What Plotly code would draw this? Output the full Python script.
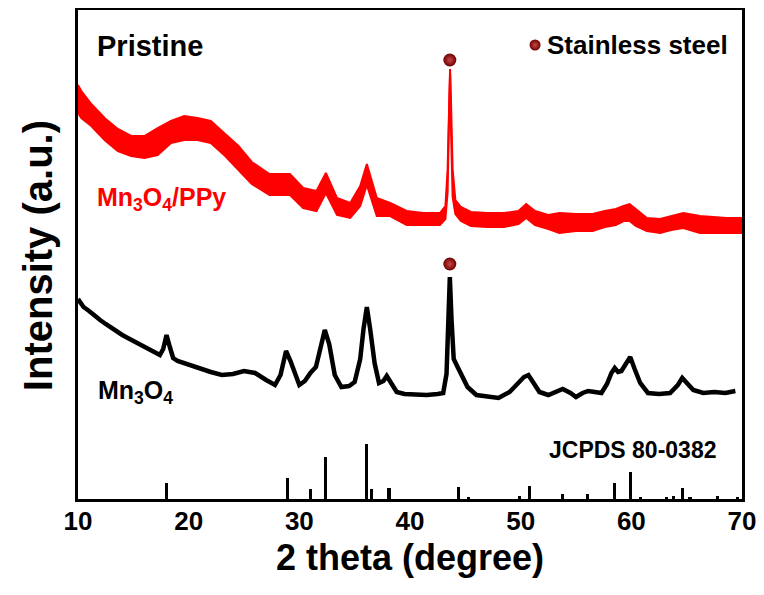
import plotly.graph_objects as go

# ---- Data (intensity in arbitrary units) ----
# Mn3O4 (black) pattern
mn_x = [10.0, 10.5, 11.0, 11.5, 12.0, 12.5, 13.0, 13.5, 14.0, 14.5, 15.0, 15.5, 16.0, 16.5, 17.0,
        17.4, 17.7, 18.0, 18.3, 18.6, 19.0, 19.5, 20.0, 21.0, 22.0, 23.0, 24.0, 25.0, 26.0, 27.0,
        27.8, 28.3, 28.8, 29.2, 29.6, 30.0, 30.5, 31.0, 31.5, 32.0, 32.3, 32.7, 33.2, 33.8, 34.5,
        35.0, 35.5, 35.8, 36.1, 36.4, 36.8, 37.2, 37.6, 37.9, 38.3, 38.8, 39.5, 40.5, 41.5, 42.5,
        43.0, 43.3, 43.45, 43.6, 43.75, 43.95, 44.3, 44.7, 45.2, 46.0, 47.0, 48.0, 49.0, 49.7, 50.3,
        50.7, 51.1, 51.7, 52.5, 53.2, 53.8, 54.5, 55.0, 55.6, 56.1, 56.7, 57.3, 57.8, 58.2, 58.5,
        58.8, 59.1, 59.5, 59.9, 60.3, 60.8, 61.5, 62.5, 63.5, 64.2, 64.6, 65.0, 65.6, 66.5, 67.5,
        68.5, 69.4]
mn_y = [200, 192, 188, 183, 179, 175, 171, 167, 164, 161, 158, 155, 152, 149, 146,
        144, 150, 164, 152, 141, 138, 136, 134, 130, 127, 124, 125, 128, 126, 119,
        114, 124, 148, 138, 125, 114, 118, 126, 132, 155, 169, 155, 124, 112, 113,
        117, 140, 170, 192, 170, 136, 116, 118, 123, 116, 107, 105, 104, 104, 105,
        106, 125, 175, 222, 180, 140, 132, 124, 112, 104, 102, 101, 107, 115, 122,
        124, 117, 107, 104, 107, 110, 106, 102, 106, 108, 107, 106, 115, 126, 131,
        127, 128, 136, 142, 130, 116, 106, 105, 106, 114, 121, 116, 109, 106, 107,
        106, 108]

# Mn3O4/PPy (red) pattern: upper and lower edges of the noisy trace
ppy_x = [10.0, 10.3, 11.2, 12.4, 13.6, 14.8, 16.0, 17.2, 18.4, 19.6, 20.8, 22.0, 23.3, 24.5, 25.7,
         27.3, 29.15, 30.35, 31.55, 32.4, 33.4, 34.6, 35.5, 36.1, 37.0, 38.2, 39.7, 41.2, 42.7, 43.2,
         43.4, 43.55, 43.62, 43.7, 43.85, 44.1, 44.6, 45.5, 47.0, 48.5, 49.8, 50.5, 51.3, 52.5, 53.5,
         55.0, 56.5, 57.6, 58.6, 59.3, 59.85, 60.4, 61.4, 62.6, 63.6, 64.7, 66.2, 67.5, 68.6, 70.0]
ppy_hi = [414, 408, 395, 381, 370, 363, 363, 371, 378, 383, 381, 378, 365, 353, 337,
          325, 325, 311, 308, 326, 301, 296, 313, 335, 301, 296, 288, 286, 286, 293,
          330, 420, 430, 400, 330, 299, 292, 287, 286, 286, 288, 295, 288, 284, 286,
          285, 285, 288, 290, 293, 295, 290, 281, 280, 283, 286, 283, 282, 281, 281]
ppy_lo = [386, 381, 373, 359, 348, 343, 341, 344, 356, 359, 359, 356, 343, 329, 315,
          304, 304, 291, 288, 306, 284, 281, 293, 314, 283, 283, 274, 274, 274, 280,
          307, 397, 425, 372, 302, 285, 278, 273, 272, 272, 275, 281, 274, 270, 266,
          268, 268, 272, 274, 278, 278, 273, 268, 266, 269, 271, 266, 266, 266, 266]

# JCPDS 80-0382 reference lines
jc_pos = [18.0, 28.9, 31.0, 32.4, 36.1, 36.5, 38.1, 44.4, 45.3, 49.9, 50.8, 53.8, 56.0, 58.5,
          59.9, 60.8, 63.2, 63.8, 64.6, 65.3, 67.8, 69.6]
jc_int = [16, 21, 10, 42, 55, 10, 11, 12, 2, 3, 13, 5, 5, 16, 27, 2, 2, 3, 11, 2, 3, 2]

# Stainless-steel peak markers
ss_x = [43.6, 43.6]
ss_y = [439, 235]
legend_x = [51.3]
legend_y = [454]

x_ticks = [10, 20, 30, 40, 50, 60, 70]

FONT = "Liberation Sans, Arial, Helvetica, sans-serif"
RED = "#ff0000"

fig = go.Figure()

# JCPDS bars
fig.add_trace(go.Bar(x=jc_pos, y=jc_int, width=0.28, marker=dict(color="black", line=dict(width=0)),
                     showlegend=False, hoverinfo="skip"))

# red noisy band
fig.add_trace(go.Scatter(x=ppy_x, y=ppy_lo, mode="lines", line=dict(color=RED, width=2),
                         showlegend=False, hoverinfo="skip"))
fig.add_trace(go.Scatter(x=ppy_x, y=ppy_hi, mode="lines", line=dict(color=RED, width=2),
                         fill="tonexty", fillcolor=RED, showlegend=False, hoverinfo="skip"))

# black pattern
fig.add_trace(go.Scatter(x=mn_x, y=mn_y, mode="lines", line=dict(color="black", width=4.5),
                         showlegend=False, hoverinfo="skip"))

# sphere markers
sphere = dict(size=13, color="#6e0000", line=dict(width=0),
              gradient=dict(type="radial", color="#c84848"))
fig.add_trace(go.Scatter(x=ss_x, y=ss_y, mode="markers", marker=sphere, showlegend=False, hoverinfo="skip"))
fig.add_trace(go.Scatter(x=legend_x, y=legend_y, mode="markers", marker=dict(sphere, size=11),
                         showlegend=False, hoverinfo="skip"))

ann = [
    dict(x=11.5, y=453, text="<b>Pristine</b>", xanchor="left", yanchor="middle",
         font=dict(size=29, color="black", family=FONT)),
    dict(x=52.2, y=454, text="<b>Stainless steel</b>", xanchor="left", yanchor="middle",
         font=dict(size=26, color="black", family=FONT)),
    dict(x=11.5, y=300, text="<b>Mn<sub>3</sub>O<sub>4</sub>/PPy</b>", xanchor="left", yanchor="middle",
         font=dict(size=25, color=RED, family=FONT)),
    dict(x=11.6, y=107, text="<b>Mn<sub>3</sub>O<sub>4</sub></b>", xanchor="left", yanchor="middle",
         font=dict(size=25, color="black", family=FONT)),
    dict(x=52.4, y=49, text="<b>JCPDS 80-0382</b>", xanchor="left", yanchor="middle",
         font=dict(size=23, color="black", family=FONT)),
    dict(x=0.5, y=-0.12, xref="paper", yref="paper", text="<b>2 theta (degree)</b>",
         xanchor="center", yanchor="middle", showarrow=False,
         font=dict(size=36, color="black", family=FONT)),
    dict(x=-0.06, y=0.497, xref="paper", yref="paper", text="<b>Intensity (a.u.)</b>",
         textangle=-90, xanchor="center", yanchor="middle", showarrow=False,
         font=dict(size=40, color="black", family=FONT)),
]
for a in ann:
    a.setdefault("showarrow", False)

# the page adds an 8 px body margin, so the figure is reduced by that amount
fig.update_layout(
    width=756, height=587,
    margin=dict(l=70, r=22, t=2, b=96, autoexpand=False),
    plot_bgcolor="white", paper_bgcolor="white",
    bargap=0, annotations=ann,
    xaxis=dict(range=[10, 70], tickvals=x_ticks, ticks="", showgrid=False, zeroline=False,
               showline=True, mirror=True, linewidth=3, linecolor="black", automargin=False,
               ticklabelstandoff=-3,
               tickfont=dict(size=26, color="black", family=FONT, weight="bold")),
    yaxis=dict(range=[0, 489], showticklabels=False, ticks="", showgrid=False, zeroline=False,
               showline=True, mirror=True, linewidth=3, linecolor="black", automargin=False),
)

fig.write_html("out.html")
